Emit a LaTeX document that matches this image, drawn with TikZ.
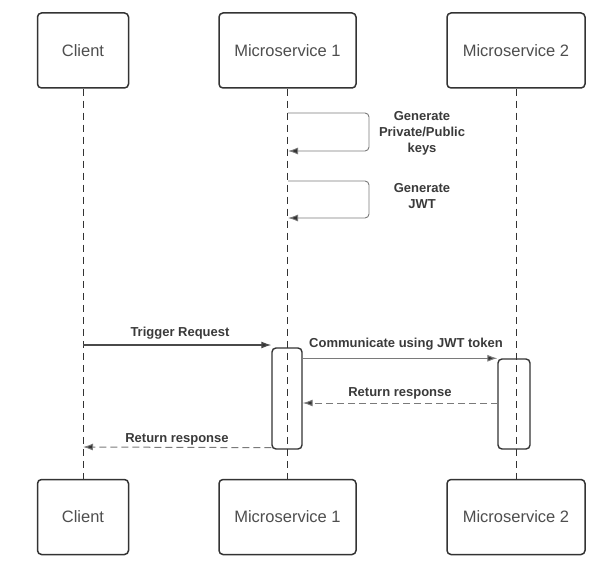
\documentclass[tikz,border=0pt]{standalone}
\usepackage{fontspec}
\setmainfont{Liberation Sans}
\usepackage{tikz}
\usetikzlibrary{positioning,arrows.meta,calc}
\definecolor{cLine}{HTML}{333333}
\definecolor{cText}{HTML}{3A3A3A}
\definecolor{cMsg}{HTML}{4A4A4A}
\definecolor{cLoop}{HTML}{7A7A7A}

\begin{document}
\begin{tikzpicture}[
   x=1pt,y=-1pt,
   actor/.style={draw=cLine,line width=1.5pt,rounded corners=4pt,minimum height=75pt,
                 inner sep=0pt,text=cText!90,font=\fontsize{16.5}{19}\selectfont},
   act/.style={draw=cLine,line width=1.4pt,rounded corners=4pt,inner sep=0pt},
   life/.style={draw=cLine,line width=0.8pt,dash pattern=on 7pt off 5pt},
   msg/.style={draw=cMsg,line width=1.2pt,-{Latex[length=10pt,width=7pt,fill=cLine]}},
   ret/.style={msg,draw=cLoop,line width=1pt,dash pattern=on 7pt off 4pt},
   selfmsg/.style={draw=cLoop,line width=0.9pt,rounded corners=4pt,
                   -{Latex[length=10pt,width=7pt,fill=cLine]}},
   lbl/.style={text=cText,font=\fontsize{13}{16}\selectfont\bfseries,align=center}]
  \useasboundingbox (0,0) rectangle (602,577);
  % actors, top and bottom, with lifelines
  \foreach \n/\x/\w/\t in {cl/83/91/Client,ms1/287.5/137/Microservice 1,ms2/516/138/Microservice 2}{
    \node[actor,minimum width=\w] (\n-t) at (\x,50.5) {\t};
    \node[actor,minimum width=\w] (\n-b) at (\x,517) {\t};
    \draw[life] (\n-t) -- (\n-b);
  }
  % activation bars
  \node[act,minimum width=30pt,minimum height=101pt] (act1) at (287,398.5) {};
  \node[act,minimum width=32pt,minimum height=90pt] (act2) at (514,404) {};
  % self messages on Microservice 1
  \coordinate (k1) at (288,113);
  \coordinate (k2) at (288,181);
  \draw[selfmsg] (k1) -- ++(81,0) -- ++(0,38) -- ++(-81,0);
  \draw[selfmsg] (k2) -- ++(81,0) -- ++(0,37) -- ++(-81,0);
  \node[lbl] (keys) at (422,133) {Generate\\Private/Public\\keys};
  \node[lbl] (jwt) at (422,196) {Generate\\JWT};
  % messages
  \coordinate (c1) at (83,345);
  \coordinate (c2) at (83,447);
  \coordinate (r1) at (498,403);
  \draw[msg] (c1) -- (c1 -| act1.west);
  \node[lbl] (trig) at (180,333) {Trigger Request};
  \draw[msg,draw=cLoop,line width=1pt] (act1.east |- act2.north) -- (act2.north west);
  \node[lbl] (comm) at (406,344) {Communicate using JWT token};
  \draw[ret] (r1) -- (r1 -| act1.east);
  \node[lbl] (resp2) at (400,393) {Return response};
  \draw[ret] (act1.south west) ++(0,-2) -- (c2);
  \node[lbl] (resp1) at (177,439) {Return response};
\end{tikzpicture}
\end{document}
